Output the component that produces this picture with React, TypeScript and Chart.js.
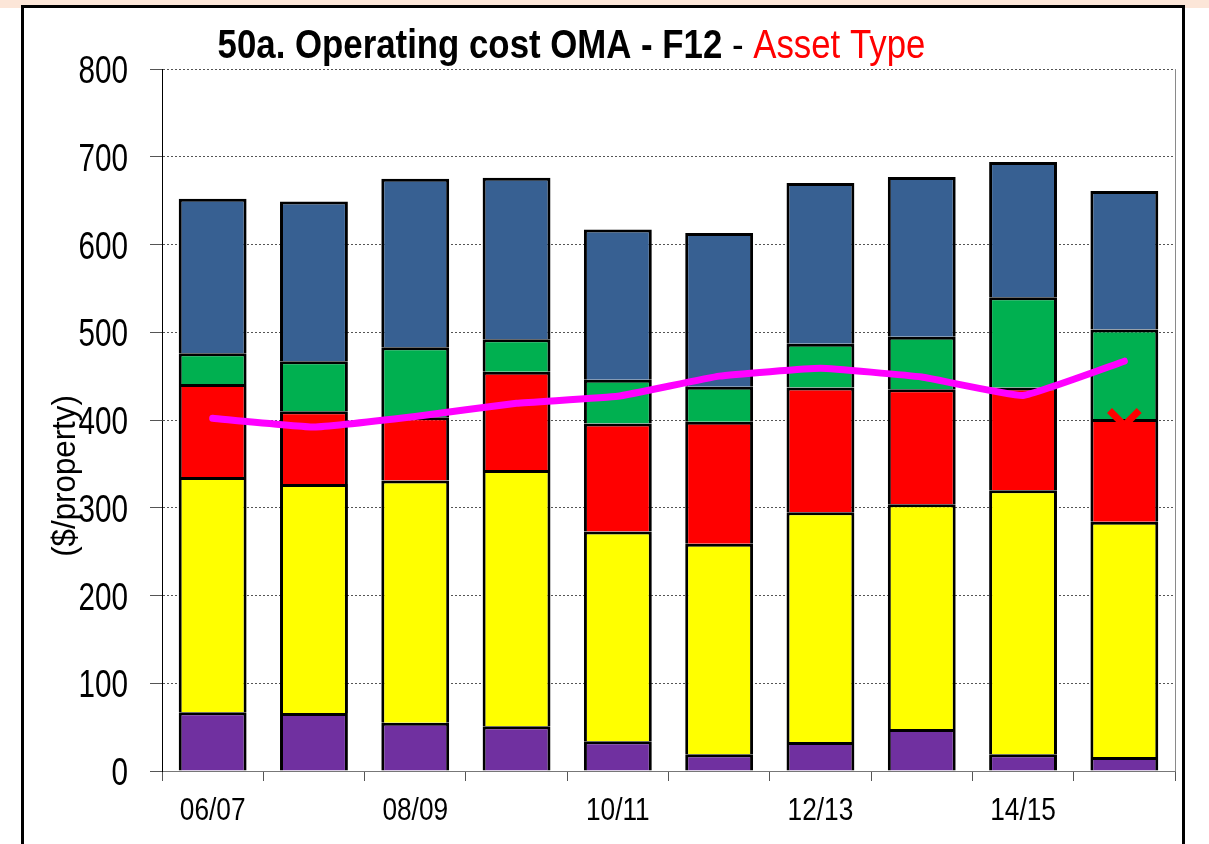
import React, { useEffect, useRef } from 'react';
import { Chart, registerables } from 'chart.js';

Chart.register(...registerables);

const categories = ['06/07', '07/08', '08/09', '09/10', '10/11', '11/12', '12/13', '13/14', '14/15', '15/16'];

// stacked segments, bottom to top
const purpleValues = [67, 66, 55, 51, 34, 19, 33, 48, 19, 16];
const yellowValues = [268, 261, 276, 292, 239, 240, 262, 256, 301, 268];
const redValues = [106, 83, 72, 112, 123, 139, 142, 131, 117, 117];
const greenValues = [35, 57, 80, 37, 50, 40, 50, 60, 103, 102];
const blueValues = [176, 182, 192, 184, 171, 175, 183, 182, 154, 158];

// magenta trend line and red marker
const lineValues = [402, 392, 404, 419, 427, 450, 459, 449, 428, 467];
const markerValues = [null, null, null, null, null, null, null, null, null, 394];

const yMin = 0;
const yMax = 800;
const yStep = 100;

const titleBold = '50a. Operating cost OMA - F12';
const titleDash = ' - ';
const titleRed = 'Asset Type';
const yTitle = '($/property)';

const FONT = "'Liberation Sans', Arial, sans-serif";
const HIDDEN = 'rgba(0,0,0,0)';

function drawScaled(ctx: any, text: string, x: number, y: number, sx: number, align: string, baseline: string) {
  ctx.save();
  ctx.translate(x, y);
  ctx.scale(sx, 1);
  ctx.textAlign = align;
  ctx.textBaseline = baseline;
  ctx.fillText(text, 0, 0);
  ctx.restore();
}

const overlayPlugin = {
  id: 'overlayText',
  afterDraw(chart: any) {
    const { ctx, chartArea, scales } = chart;
    ctx.save();
    // right frame of plot area
    ctx.strokeStyle = '#8a8a8a';
    ctx.lineWidth = 1;
    ctx.beginPath();
    ctx.moveTo(chartArea.right + 0.5, chartArea.top);
    ctx.lineTo(chartArea.right + 0.5, chartArea.bottom);
    ctx.stroke();

    // y tick labels (narrow)
    ctx.fillStyle = '#000000';
    ctx.font = `38px ${FONT}`;
    scales.y.ticks.forEach((t: any) => {
      const py = scales.y.getPixelForValue(t.value);
      drawScaled(ctx, String(t.label), 128, py + 14, 0.78, 'right', 'alphabetic');
    });

    // x tick labels (narrow)
    ctx.font = `32px ${FONT}`;
    scales.x.ticks.forEach((t: any, i: number) => {
      if (!t.label) return;
      const px = scales.x.getPixelForTick(i);
      drawScaled(ctx, String(t.label), px, 820, 0.82, 'center', 'alphabetic');
    });

    // title with mixed styles
    const sx = 0.87;
    const parts = [
      { t: titleBold, font: `bold 40px ${FONT}`, color: '#000000' },
      { t: titleDash, font: `40px ${FONT}`, color: '#000000' },
      { t: titleRed, font: `40px ${FONT}`, color: '#FF0000' },
    ];
    let total = 0;
    const widths: number[] = [];
    for (const p of parts) {
      ctx.font = p.font;
      const w = ctx.measureText(p.t).width * sx;
      widths.push(w);
      total += w;
    }
    let x = 571.5 - total / 2;
    parts.forEach((p, i) => {
      ctx.font = p.font;
      ctx.fillStyle = p.color;
      drawScaled(ctx, p.t, x, 58, sx, 'left', 'alphabetic');
      x += widths[i];
    });

    // y axis title
    ctx.translate(66, 476);
    ctx.rotate(-Math.PI / 2);
    ctx.scale(0.92, 1);
    ctx.font = `34px ${FONT}`;
    ctx.fillStyle = '#000000';
    ctx.textAlign = 'center';
    ctx.textBaseline = 'middle';
    ctx.fillText(yTitle, 0, 0);
    ctx.restore();
  },
};

export default function App() {
  const ref = useRef<HTMLCanvasElement>(null);

  useEffect(() => {
    document.body.style.margin = '0';
    const canvas = ref.current;
    if (!canvas) return;
    const barCommon = {
      type: 'bar' as const,
      borderColor: '#000000',
      borderWidth: 3,
      barPercentage: 0.67,
      categoryPercentage: 1,
      stack: 'bars',
      order: 1,
    };
    const chart = new Chart(canvas, {
      type: 'bar',
      data: {
        labels: categories,
        datasets: [
          {
            type: 'line',
            data: lineValues,
            borderColor: '#FF00FF',
            backgroundColor: '#FF00FF',
            borderWidth: 7,
            borderCapStyle: 'round',
            borderJoinStyle: 'round',
            pointRadius: 0,
            tension: 0.1,
            fill: false,
            stack: 'line1',
            order: 0,
          } as any,
          {
            type: 'line',
            data: markerValues,
            showLine: false,
            pointStyle: 'crossRot',
            pointRadius: 21,
            pointBorderWidth: 7,
            borderColor: '#FF0000',
            backgroundColor: '#FF0000',
            stack: 'line2',
            order: 0,
          } as any,
          { ...barCommon, data: purpleValues, backgroundColor: '#7030A0' },
          { ...barCommon, data: yellowValues, backgroundColor: '#FFFF00' },
          { ...barCommon, data: redValues, backgroundColor: '#FF0000' },
          { ...barCommon, data: greenValues, backgroundColor: '#00B050' },
          { ...barCommon, data: blueValues, backgroundColor: '#376092' },
        ],
      },
      options: {
        responsive: false,
        animation: false,
        devicePixelRatio: 1,
        layout: { padding: { left: 0, right: 34, top: 69, bottom: 0 } },
        plugins: {
          legend: { display: false },
          tooltip: { enabled: false },
          title: { display: false },
        },
        scales: {
          x: {
            stacked: true,
            grid: {
              offset: true,
              drawOnChartArea: false,
              drawTicks: true,
              tickLength: 10,
              color: '#555555',
            },
            border: { color: '#777777', width: 1 },
            ticks: {
              autoSkip: false,
              maxRotation: 0,
              minRotation: 0,
              padding: 6,
              color: HIDDEN,
              font: { family: FONT, size: 24 },
              callback: (_v: any, i: number) => (i % 2 === 0 ? categories[i] : ''),
            },
            afterFit: (s: any) => {
              s.height = 73;
            },
          },
          y: {
            stacked: true,
            min: yMin,
            max: yMax,
            ticks: {
              stepSize: yStep,
              padding: 23,
              color: HIDDEN,
              font: { family: FONT, size: 28 },
            },
            grid: {
              color: '#555555',
              tickLength: 12,
              tickColor: '#555555',
              tickBorderDash: [],
            },
            border: { color: '#000000', width: 1, dash: [2, 2] },
            afterFit: (s: any) => {
              s.width = 162;
            },
          },
        },
      } as any,
      plugins: [overlayPlugin],
    });
    return () => chart.destroy();
  }, []);

  return (
    <div style={{ position: 'relative', width: 1209, height: 844, overflow: 'hidden', background: '#ffffff' }}>
      <div style={{ position: 'absolute', left: 0, top: 0, width: 1209, height: 8, background: '#FCE6D8' }} />
      <div
        style={{
          position: 'absolute',
          left: 21,
          top: 5,
          width: 1158,
          height: 900,
          border: '3px solid #000000',
          background: '#ffffff',
        }}
      />
      <canvas ref={ref} width={1209} height={844} style={{ position: 'absolute', left: 0, top: 0, display: 'block' }} />
    </div>
  );
}
